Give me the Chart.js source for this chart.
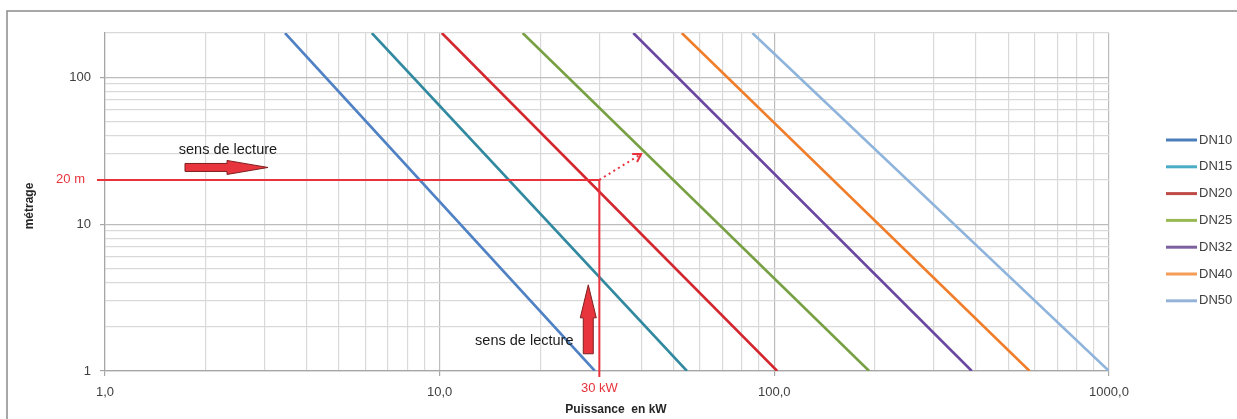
<!DOCTYPE html>
<html><head><meta charset="utf-8">
<script src="https://cdn.jsdelivr.net/npm/chart.js@4/dist/chart.umd.min.js"></script>
<style>html,body{margin:0;padding:0;background:#fff;overflow:hidden}canvas{display:block}</style>
</head><body>
<canvas id="c" width="1237" height="419"></canvas>
<script>
// ---- data ----
const seriesNames  = ['DN10', 'DN15', 'DN20', 'DN25', 'DN32', 'DN40', 'DN50'];
const seriesColors = ['#4f81c4', '#3189a0', '#d3262e', '#77a043', '#6a46a0', '#f07d2a', '#8fb4dc'];
const legendColors = ['#4a7ebb', '#4bacc6', '#be4b48', '#98b954', '#7d60a0', '#f59d56', '#95b3d7'];
const endLengths = [200, 1];          // métrage at the two ends of each line
const powerDN10 = [3.45, 29.1];
const powerDN15 = [6.27, 54.8];
const powerDN20 = [10.15, 102];
const powerDN25 = [17.7, 192];
const powerDN32 = [37.9, 389];
const powerDN40 = [52.9, 579];
const powerDN50 = [86.0, 1000];
const seriesPowers = [powerDN10, powerDN15, powerDN20, powerDN25, powerDN32, powerDN40, powerDN50];

const xTickValues = [1,2,3,4,5,6,7,8,9,10,20,30,40,50,60,70,80,90,100,200,300,400,500,600,700,800,900,1000];
const yTickValues = [1,2,3,4,5,6,7,8,9,10,20,30,40,50,60,70,80,90,100,200];
const xLabelValues = [1, 10, 100, 1000];
const xLabelTexts  = ['1,0', '10,0', '100,0', '1000,0'];
const yLabelValues = [1, 10, 100];
const yLabelTexts  = ['1', '10', '100'];
const xAxisTitle = 'Puissance  en kW';
const yAxisTitle = 'métrage';

// reading example
const refLength = 20, refPower = 30;
const refLengthLabel = '20 m', refPowerLabel = '30 kW';
const arrowTarget = {x: 40, y: 30};
const readingText = 'sens de lecture';
const readingTextPos = [{x: 2.33, y: 32.2}, {x: 17.9, y: 1.61}];
const blockArrowH = {from: {x: 1.734, y: 24.3}, to: {x: 3.07, y: 24.3}};
const blockArrowV = {from: {x: 27.8, y: 1.31}, to: {x: 27.8, y: 3.86}};

// ---- helpers ----
const isDecade = v => Math.abs(Math.log10(v) - Math.round(Math.log10(v))) < 1e-9;
const FONT = '"Liberation Sans", Arial, sans-serif';
const RED = '#e8323c';

const datasets = seriesNames.map((n, i) => ({
  label: n,
  data: seriesPowers[i].map((p, k) => ({x: p, y: endLengths[k]})),
  borderColor: seriesColors[i],
  backgroundColor: seriesColors[i],
  borderWidth: 2.6,
  pointRadius: 0,
  tension: 0,
  fill: false
}));

function blockArrow(ctx, tail, tip, s, h, headLen) {
  const dx = tip.x - tail.x, dy = tip.y - tail.y;
  const L = Math.hypot(dx, dy);
  const ux = dx / L, uy = dy / L, nx = -uy, ny = ux;
  const bx = tip.x - ux * headLen, by = tip.y - uy * headLen;
  ctx.beginPath();
  ctx.moveTo(tail.x + nx * s, tail.y + ny * s);
  ctx.lineTo(bx + nx * s, by + ny * s);
  ctx.lineTo(bx + nx * h, by + ny * h);
  ctx.lineTo(tip.x, tip.y);
  ctx.lineTo(bx - nx * h, by - ny * h);
  ctx.lineTo(bx - nx * s, by - ny * s);
  ctx.lineTo(tail.x - nx * s, tail.y - ny * s);
  ctx.closePath();
  ctx.fillStyle = '#e8353d';
  ctx.fill();
  ctx.strokeStyle = '#7f1f1f';
  ctx.lineWidth = 1;
  ctx.stroke();
}

const decorPlugin = {
  id: 'decor',
  beforeDraw(chart) {
    const ctx = chart.ctx;
    ctx.save();
    ctx.strokeStyle = '#8a8a8a';
    ctx.lineWidth = 1.5;
    ctx.beginPath();
    ctx.moveTo(7, 430); ctx.lineTo(7, 11); ctx.lineTo(1240, 11);
    ctx.stroke();
    ctx.restore();
  },
  afterDraw(chart) {
    const ctx = chart.ctx;
    const xs = chart.scales.x, ys = chart.scales.y;
    const X = v => xs.getPixelForValue(v), Y = v => ys.getPixelForValue(v);
    ctx.save();
    // axis titles
    ctx.fillStyle = '#262626';
    ctx.font = 'bold 12px ' + FONT;
    ctx.textAlign = 'center'; ctx.textBaseline = 'middle';
    ctx.fillText(xAxisTitle, (xs.left + xs.right) / 2 + 9, 410);
    ctx.save();
    ctx.translate(30, (ys.top + ys.bottom) / 2 + 4);
    ctx.rotate(-Math.PI / 2);
    ctx.fillText(yAxisTitle, 0, 0);
    ctx.restore();
    // reference lines
    ctx.strokeStyle = RED; ctx.lineWidth = 2;
    ctx.beginPath();
    ctx.moveTo(xs.left - 8, Y(refLength)); ctx.lineTo(X(refPower), Y(refLength));
    ctx.moveTo(X(refPower), Y(refLength)); ctx.lineTo(X(refPower), ys.bottom + 6);
    ctx.stroke();
    // dotted arrow
    const p0 = {x: X(refPower), y: Y(refLength)}, p1 = {x: X(arrowTarget.x), y: Y(arrowTarget.y)};
    ctx.setLineDash([2, 3.5]);
    ctx.lineWidth = 2;
    ctx.beginPath(); ctx.moveTo(p0.x, p0.y); ctx.lineTo(p1.x, p1.y); ctx.stroke();
    ctx.setLineDash([]);
    const ang = Math.atan2(p1.y - p0.y, p1.x - p0.x);
    ctx.beginPath();
    ctx.moveTo(p1.x - 9 * Math.cos(ang - 0.55), p1.y - 9 * Math.sin(ang - 0.55));
    ctx.lineTo(p1.x, p1.y);
    ctx.lineTo(p1.x - 9 * Math.cos(ang + 0.55), p1.y - 9 * Math.sin(ang + 0.55));
    ctx.stroke();
    // red labels
    ctx.fillStyle = RED;
    ctx.font = '13px ' + FONT;
    ctx.textAlign = 'right'; ctx.textBaseline = 'middle';
    ctx.fillText(refLengthLabel, 85, Y(refLength));
    ctx.textAlign = 'center';
    ctx.fillText(refPowerLabel, X(refPower), 388);
    // block arrows
    blockArrow(ctx, {x: X(blockArrowH.from.x), y: Y(blockArrowH.from.y)}, {x: X(blockArrowH.to.x), y: Y(blockArrowH.to.y)}, 4, 7, 41);
    blockArrow(ctx, {x: X(blockArrowV.from.x), y: Y(blockArrowV.from.y)}, {x: X(blockArrowV.to.x), y: Y(blockArrowV.to.y)}, 5, 8, 33);
    // reading texts
    ctx.fillStyle = '#1a1a1a';
    ctx.font = '14.5px ' + FONT;
    ctx.textAlign = 'center'; ctx.textBaseline = 'middle';
    readingTextPos.forEach(p => ctx.fillText(readingText, X(p.x), Y(p.y)));
    // legend
    ctx.font = '13px ' + FONT;
    ctx.textAlign = 'left';
    seriesNames.forEach((n, i) => {
      const y = 140 + i * 26.8;
      ctx.strokeStyle = legendColors[i]; ctx.lineWidth = 3;
      ctx.beginPath(); ctx.moveTo(1166, y); ctx.lineTo(1197, y); ctx.stroke();
      ctx.fillStyle = '#404040';
      ctx.fillText(n, 1199, y);
    });
    ctx.restore();
  }
};

const gridColor = c => (c.tick && isDecade(c.tick.value)) ? '#bcbcbc' : '#d9d9d9';
const tickMarkColor = c => (c.tick && isDecade(c.tick.value)) ? '#a6a6a6' : 'rgba(0,0,0,0)';

new Chart(document.getElementById('c'), {
  type: 'line',
  data: {datasets},
  plugins: [decorPlugin],
  options: {
    responsive: false,
    animation: false,
    devicePixelRatio: 1,
    layout: {padding: {top: 33, right: 128, bottom: 0, left: 0}},
    plugins: {legend: {display: false}, tooltip: {enabled: false}},
    scales: {
      x: {
        type: 'logarithmic', min: 1, max: 1000,
        afterBuildTicks: s => { s.ticks = xTickValues.map(v => ({value: v})); },
        afterFit: s => { s.height = 48; },
        grid: {color: gridColor, lineWidth: 1.2, tickLength: 5, tickColor: tickMarkColor},
        border: {color: '#a6a6a6', width: 1.2},
        ticks: {
          autoSkip: false, maxRotation: 0, padding: 9, color: '#404040',
          font: {family: FONT, size: 13},
          callback: v => { const i = xLabelValues.indexOf(v); return i >= 0 ? xLabelTexts[i] : ''; }
        },
        title: {display: false}
      },
      y: {
        type: 'logarithmic', min: 1, max: 200,
        afterBuildTicks: s => { s.ticks = yTickValues.map(v => ({value: v})); },
        afterFit: s => { s.width = 105; },
        grid: {color: gridColor, lineWidth: 1.2, tickLength: 5, tickColor: tickMarkColor},
        border: {color: '#a6a6a6', width: 1.2},
        ticks: {
          autoSkip: false, padding: 9, color: '#404040',
          font: {family: FONT, size: 13},
          callback: v => { const i = yLabelValues.indexOf(v); return i >= 0 ? yLabelTexts[i] : ''; }
        },
        title: {display: false}
      }
    }
  }
});
</script>
</body></html>
